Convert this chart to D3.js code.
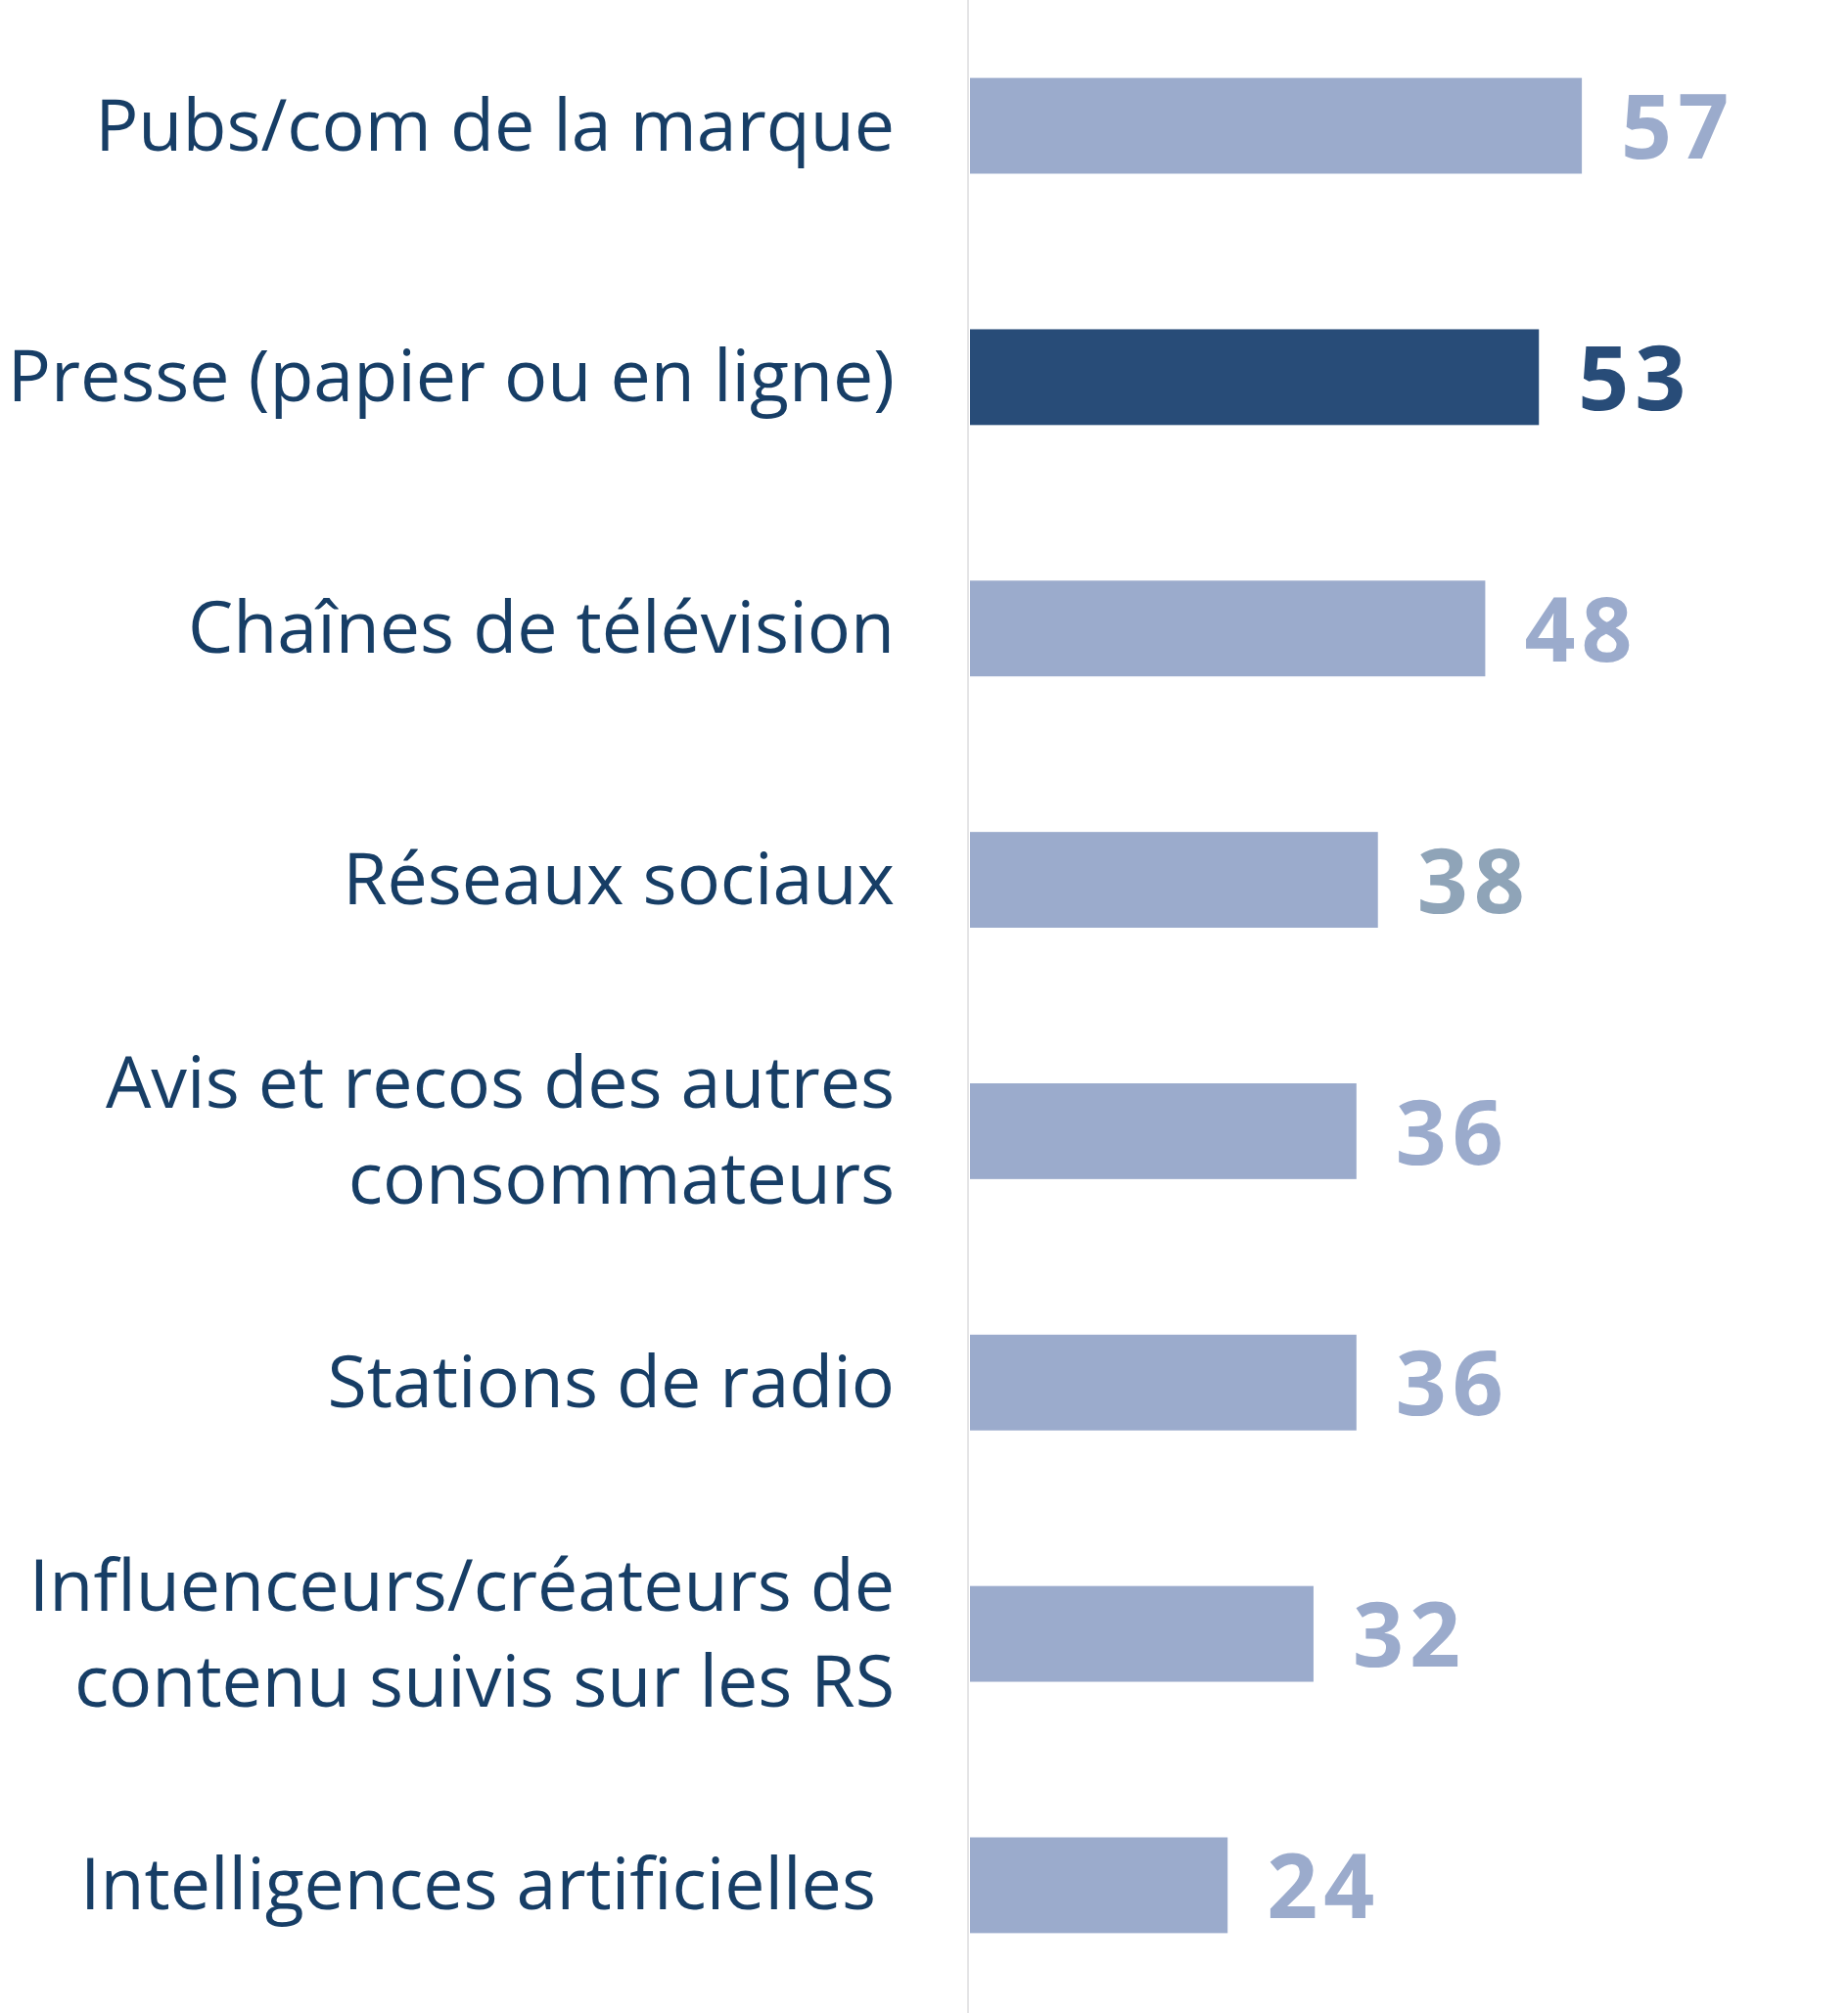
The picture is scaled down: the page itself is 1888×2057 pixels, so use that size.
<!DOCTYPE html>
<html lang="fr">
<head>
<meta charset="UTF-8">
<title>chart</title>
<style>
  body { margin: 0; background: #fff; }
  svg { display: block; }
</style>
</head>
<body>
<script src="https://cdn.jsdelivr.net/npm/d3@7/dist/d3.min.js"></script>
<script>
// données
const categories = [
  'Pubs/com de la marque',
  'Presse (papier ou en ligne)',
  'Chaînes de télévision',
  'Réseaux sociaux',
  'Avis et recos des autres consommateurs',
  'Stations de radio',
  'Influenceurs/créateurs de contenu suivis sur les RS',
  'Intelligences artificielles'
];
const values = [57, 53, 48, 38, 36, 36, 32, 24];
// découpage des libellés sur plusieurs lignes
const labelLines = [
  ['Pubs/com de la marque'],
  ['Presse (papier ou en ligne)'],
  ['Chaînes de télévision'],
  ['Réseaux sociaux'],
  ['Avis et recos des autres', 'consommateurs'],
  ['Stations de radio'],
  ['Influenceurs/créateurs de', 'contenu suivis sur les RS'],
  ['Intelligences artificielles\u00a0']
];

const highlight = 'Presse (papier ou en ligne)';

const width = 1888;
const height = 2057;
const x0 = 990;        // position de l'axe vertical
const labelRight = 914;
const lineGap = 98;    // interligne des libellés sur 2 lignes

const svg = d3.select('body')
  .append('svg')
  .attr('width', width)
  .attr('height', height);

const x = d3.scaleLinear()
  .domain([0, 60])
  .range([0, 658]);

const y = d3.scaleBand()
  .domain(categories)
  .range([0, 2055])
  .paddingInner(0.619)
  .paddingOuter(0.31);

// ligne d'axe
svg.append('line')
  .attr('x1', x0 - 1).attr('x2', x0 - 1)
  .attr('y1', 0).attr('y2', height)
  .attr('stroke', '#e4e4e6')
  .attr('stroke-width', 2);

const rows = svg.selectAll('g.row')
  .data(categories)
  .enter()
  .append('g')
  .attr('class', 'row');

// barres
rows.append('rect')
  .attr('x', x0 + 1)
  .attr('y', d => y(d))
  .attr('width', (d, i) => x(values[i]))
  .attr('height', y.bandwidth())
  .attr('fill', d => d === highlight ? '#284c78' : '#9babcc');

// valeurs
rows.append('text')
  .attr('x', (d, i) => x0 + 1 + x(values[i]) + 40)
  .attr('y', d => y(d) + y.bandwidth() / 2)
  .attr('dy', '0.37em')
  .attr('font-family', '"Open Sans", sans-serif')
  .attr('font-weight', 700)
  .attr('font-size', 91)
  .attr('letter-spacing', 6)
  .attr('fill', (d, i) => d === highlight ? '#284c78' : (values[i] === 38 ? '#8fa4b8' : '#9babcc'))
  .text((d, i) => values[i]);

// libellés
rows.each(function (d, i) {
  const lines = labelLines[i];
  const cy = y(d) + y.bandwidth() / 2;
  const t = d3.select(this).append('text')
    .attr('x', labelRight)
    .attr('text-anchor', 'end')
    .attr('font-family', '"Open Sans", sans-serif')
    .attr('font-size', 73.5)
    .attr('fill', '#173e66')
    .style('white-space', 'pre');
  lines.forEach(function (line, k) {
    t.append('tspan')
      .attr('x', labelRight)
      .attr('y', cy + (k - (lines.length - 1) / 2) * lineGap)
      .attr('dy', '0.34em')
      .text(line);
  });
});
</script>
</body>
</html>
